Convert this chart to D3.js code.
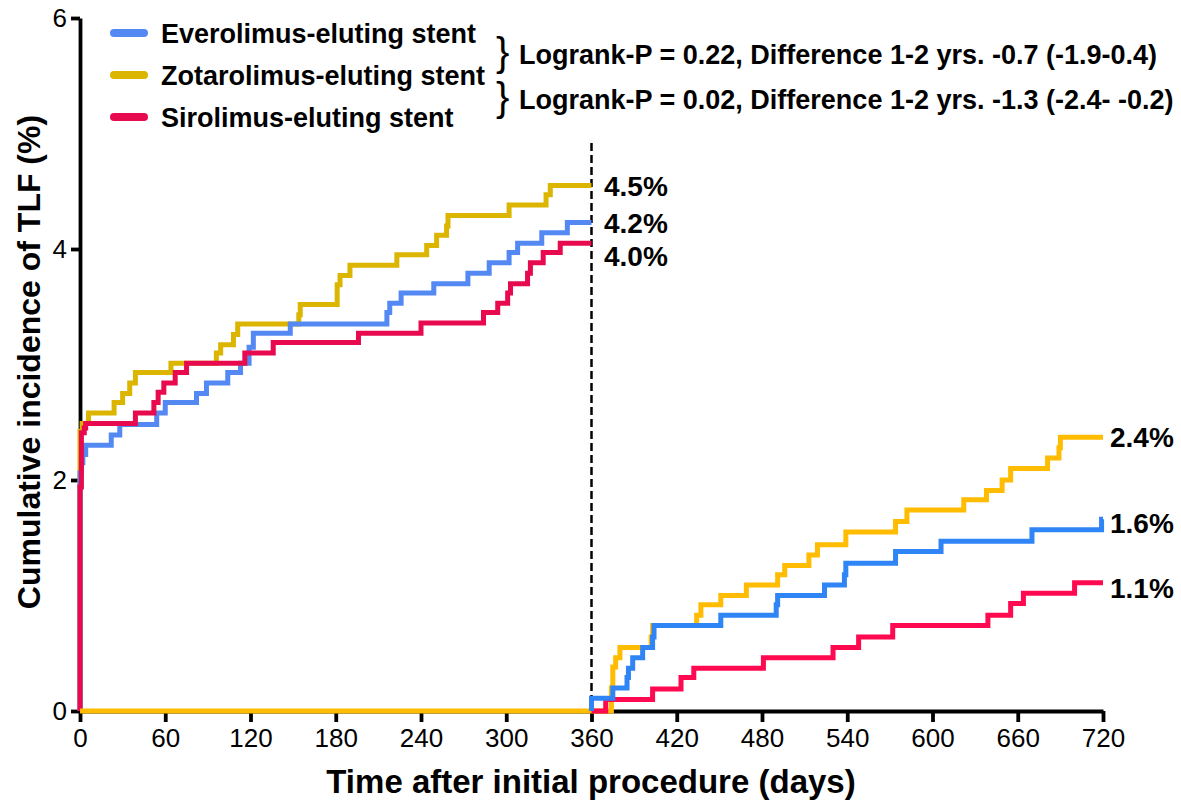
<!DOCTYPE html>
<html>
<head>
<meta charset="utf-8">
<script src="https://cdn.jsdelivr.net/npm/d3@7"></script>
<style>
  html, body { margin: 0; padding: 0; background: #fff; }
  svg { display: block; font-family: "Liberation Sans", Arial, Helvetica, sans-serif; }
</style>
</head>
<body>
<div id="root"></div>
<script>
// series as [day, cumulative %] step points
const everoY1 = [[0, 0], [0, 2.06], [1, 2.15], [2, 2.22], [4, 2.30], [22, 2.39], [28, 2.48], [54, 2.58], [60, 2.67], [82, 2.75], [89, 2.84], [104, 2.93], [113, 3.01], [119, 3.15], [122, 3.27], [148, 3.35], [216, 3.45], [218, 3.53], [226, 3.62], [249, 3.70], [273, 3.79], [288, 3.88], [302, 3.97], [308, 4.05], [325, 4.14], [343, 4.23], [360, 4.23]];
const zotaY1 = [[0, 0], [0, 2.42], [1.5, 2.49], [6, 2.58], [24, 2.67], [30, 2.75], [35, 2.84], [39, 2.93], [64, 3.01], [96, 3.10], [99, 3.17], [108, 3.26], [111, 3.35], [154, 3.43], [155, 3.52], [181, 3.69], [183, 3.77], [190, 3.86], [223, 3.95], [244, 4.03], [251, 4.12], [258, 4.20], [259, 4.29], [302, 4.38], [328, 4.47], [331, 4.55], [360, 4.55]];
const siroY1 = [[0, 0], [0, 1.94], [1, 2.41], [3, 2.45], [4, 2.49], [39, 2.58], [52, 2.67], [55, 2.76], [59, 2.84], [67, 2.93], [75, 3.01], [116, 3.10], [136, 3.19], [196, 3.27], [240, 3.36], [284, 3.45], [294, 3.53], [301, 3.62], [303, 3.70], [315, 3.79], [317, 3.88], [326, 3.97], [338, 4.05], [360, 4.05]];

const zotaY2 = [[0, 0], [374, 0.20], [375, 0.38], [377, 0.46], [380, 0.55], [402, 0.64], [403, 0.74], [434, 0.83], [437, 0.92], [451, 1.00], [469, 1.09], [491, 1.18], [496, 1.26], [513, 1.35], [519, 1.44], [539, 1.55], [574, 1.64], [582, 1.74], [622, 1.83], [638, 1.91], [649, 2.00], [655, 2.10], [681, 2.19], [689, 2.28], [690, 2.37], [720, 2.37]];
const everoY2 = [[360, 0], [360, 0.11], [375, 0.20], [385, 0.29], [386, 0.37], [389, 0.46], [396, 0.55], [403, 0.64], [404, 0.74], [451, 0.83], [490, 0.92], [491, 1.00], [524, 1.09], [538, 1.18], [539, 1.28], [574, 1.38], [606, 1.47], [670, 1.57], [719, 1.66], [720, 1.66]];
const siroY2 = [[360, 0], [370, 0.10], [403, 0.19], [423, 0.29], [432, 0.37], [481, 0.46], [530, 0.55], [548, 0.64], [572, 0.74], [639, 0.83], [655, 0.93], [664, 1.02], [700, 1.11], [720, 1.11]];

const legendNames = ['Everolimus-eluting stent', 'Zotarolimus-eluting stent', 'Sirolimus-eluting stent'];
const logrankTexts = ['Logrank-P = 0.22, Difference 1-2 yrs. -0.7 (-1.9-0.4)', 'Logrank-P = 0.02, Difference 1-2 yrs. -1.3 (-2.4- -0.2)'];
const labelsY1 = ['4.5%', '4.2%', '4.0%'];
const labelsY2 = ['2.4%', '1.6%', '1.1%'];
const xTicks = [0, 60, 120, 180, 240, 300, 360, 420, 480, 540, 600, 660, 720];
const yTicks = [0, 2, 4, 6];
const landmarkDay = 360;

const colY1 = { evero: '#5489f4', zota: '#dcb500', siro: '#e80a4e' };
const colY2 = { evero: '#2f84f6', zota: '#ffbc00', siro: '#ff0a50' };

const W = 1181, H = 802;
const x = d3.scaleLinear().domain([0, 720]).range([80, 1103]);
const y = d3.scaleLinear().domain([0, 6]).range([711, 18]);

const svg = d3.select('#root').append('svg').attr('width', W).attr('height', H);

// axes
const yAxis = svg.append('g')
  .attr('transform', `translate(${x(0)},0)`)
  .call(d3.axisLeft(y).tickValues(yTicks).tickSize(9).tickSizeOuter(0).tickPadding(4).tickFormat(d3.format('d')));
const xAxis = svg.append('g')
  .attr('transform', `translate(0,${y(0)})`)
  .call(d3.axisBottom(x).tickValues(xTicks).tickSize(11).tickSizeOuter(0).tickPadding(7));
[xAxis, yAxis].forEach(g => {
  g.select('.domain').attr('stroke', '#000').attr('stroke-width', 3.8);
  g.selectAll('.tick line').attr('stroke', '#000').attr('stroke-width', 3.8);
  g.selectAll('.tick text').attr('font-size', 26).attr('font-family', null).attr('fill', '#000');
});

// axis titles
svg.append('text')
  .attr('x', 591).attr('y', 793)
  .attr('text-anchor', 'middle').attr('font-size', 33).attr('font-weight', 'bold')
  .text('Time after initial procedure (days)');
svg.append('text')
  .attr('transform', `translate(40,${362}) rotate(-90)`)
  .attr('text-anchor', 'middle').attr('font-size', 32).attr('font-weight', 'bold')
  .text('Cumulative incidence of TLF (%)');

// landmark line
svg.append('line')
  .attr('x1', x(landmarkDay)).attr('x2', x(landmarkDay))
  .attr('y1', 143).attr('y2', y(0))
  .attr('stroke', '#000').attr('stroke-width', 2.5).attr('stroke-dasharray', '8,4');

const step = d3.line().x(d => x(d[0])).y(d => y(d[1])).curve(d3.curveStepAfter);

const drawCurve = (data, color) => svg.append('path')
  .datum(data)
  .attr('d', step)
  .attr('fill', 'none')
  .attr('stroke', color)
  .attr('stroke-width', 5);

// year 1
drawCurve(zotaY1, colY1.zota);
drawCurve(everoY1, colY1.evero);
drawCurve(siroY1, colY1.siro);
// year 2 (landmark)
drawCurve(zotaY2, colY2.zota);
drawCurve(siroY2, colY2.siro);
drawCurve(everoY2, colY2.evero);

// end labels
const lastVal = s => s[s.length - 1][1];
const endLabel = (txt, series, xpos, dy) => svg.append('text')
  .attr('x', xpos).attr('y', y(lastVal(series)) + dy)
  .attr('dy', '0.36em').attr('font-size', 28).attr('font-weight', 'bold')
  .text(txt);
endLabel(labelsY1[0], zotaY1, 604, 0);
endLabel(labelsY1[1], everoY1, 604, 0);
endLabel(labelsY1[2], siroY1, 604, 13);
endLabel(labelsY2[0], zotaY2, 1110, 0);
endLabel(labelsY2[1], everoY2, 1110, 4);
endLabel(labelsY2[2], siroY2, 1110, 5);

// legend
const legendCols = [colY1.evero, colY1.zota, colY1.siro];
const legend = svg.append('g');
legendNames.forEach((name, i) => {
  const cy = 33 + i * 42;
  legend.append('line')
    .attr('x1', 114).attr('x2', 144).attr('y1', cy).attr('y2', cy)
    .attr('stroke', legendCols[i]).attr('stroke-width', 8).attr('stroke-linecap', 'round');
  legend.append('text')
    .attr('x', 161).attr('y', cy).attr('dy', '0.36em')
    .attr('font-size', 27).attr('font-weight', 'bold')
    .text(name);
});

// logrank annotations with braces
logrankTexts.forEach((t, i) => {
  const cy = 54 + i * 45;
  svg.append('text')
    .attr('x', 496).attr('y', cy).attr('dy', '0.3em')
    .attr('font-size', 40).attr('font-weight', 'normal')
    .text('}');
  svg.append('text')
    .attr('x', 519).attr('y', cy).attr('dy', '0.36em')
    .attr('font-size', 27).attr('font-weight', 'bold')
    .text(t);
});
</script>
</body>
</html>
